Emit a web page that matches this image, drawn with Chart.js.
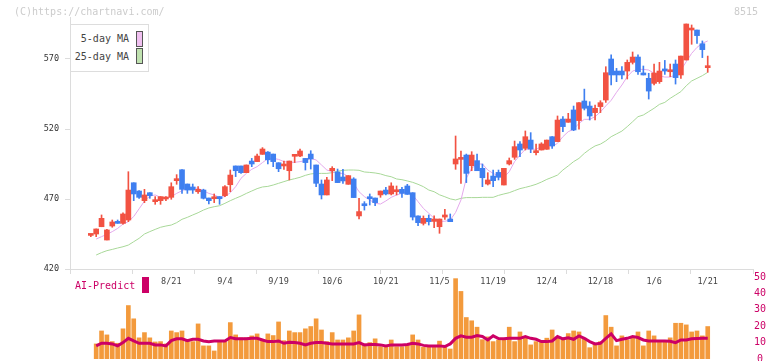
<!DOCTYPE html>
<html>
<head>
<meta charset="utf-8">
<script src="https://cdn.jsdelivr.net/npm/chart.js@4.4.1/dist/chart.umd.min.js"></script>
<style>
    body { margin: 0; width: 772px; height: 361px; overflow: hidden; background: #fff;
           font-family: "DejaVu Sans Mono", monospace; }
    canvas { position: absolute; left: 0; }
    #main_canvas { top: 0; }
    #vol_canvas { top: 270px; }
    .txt { position: absolute; font-size: 10px; line-height: 12px; white-space: nowrap; }
    .swatch { position: absolute; width: 5px; height: 14px; border: 1px solid #555; }
</style>
</head>
<body>
<canvas id="main_canvas" width="772" height="300"></canvas>
<canvas id="vol_canvas" width="772" height="100"></canvas>

<div class="txt" style="left:14px; top:6px; color:#ccc;">(C)https://chartnavi.com/</div>
<div class="txt" style="left:734px; top:6px; color:#ccc;">8515</div>

<!-- moving average legend -->
<div style="position:absolute; left:70px; top:24px; width:77px; height:46px; border:1px solid #ddd; background:#fff;"></div>
<div class="txt" style="left:70px; width:59px; top:33px; text-align:right; color:#444;">5-day MA</div>
<div class="txt" style="left:70px; width:59px; top:51px; text-align:right; color:#444;">25-day MA</div>
<div class="swatch" style="left:136px; top:31px; background:#f0c0f0;"></div>
<div class="swatch" style="left:136px; top:48px; background:#c0e2b0;"></div>

<div class="txt" style="left:75px; top:280px; color:#cc0066;">AI-Predict</div>
<div style="position:absolute; left:142px; top:277px; width:7px; height:16px; background:#cc0066;"></div>

<script>
/* trading days shown */
const dates = [
    '7/30','7/31','8/1','8/4','8/5','8/6','8/7','8/8','8/12','8/13','8/14','8/15','8/18','8/19','8/20','8/21','8/22','8/25','8/26','8/27','8/28','8/29',
    '9/1','9/2','9/3','9/4','9/5','9/8','9/9','9/10','9/11','9/12','9/16','9/17','9/18','9/19','9/22','9/24','9/25','9/26','9/29','9/30',
    '10/1','10/2','10/3','10/6','10/7','10/8','10/9','10/10','10/14','10/15','10/16','10/17','10/20','10/21','10/22','10/23','10/24','10/27','10/28','10/29','10/30','10/31',
    '11/4','11/5','11/6','11/7','11/10','11/11','11/12','11/13','11/14','11/17','11/18','11/19','11/20','11/21','11/25','11/26','11/27','11/28',
    '12/1','12/2','12/3','12/4','12/5','12/8','12/9','12/10','12/11','12/12','12/15','12/16','12/17','12/18','12/19','12/22','12/23','12/24','12/25','12/26','12/29','12/30',
    '1/5','1/6','1/7','1/8','1/9','1/13','1/14','1/15','1/16','1/19','1/20','1/21'
];

const tickDates = ['8/21','9/4','9/19','10/6','10/21','11/5','11/19','12/4','12/18','1/6','1/21'];
const priceTicks = [420, 470, 520, 570];

const open = [
    444.0,445.0,450.2,440.7,450.7,453.6,452.6,455.0,481.6,475.7,468.8,474.5,468.1,468.8,470.0,471.2,483.1,490.9,480.7,478.6,
    475.2,476.4,470.7,470.2,471.7,472.4,480.2,493.6,493.6,488.8,497.1,496.7,501.9,503.5,502.1,495.9,493.6,490.2,500.5,500.7,
    499.0,502.1,494.3,480.7,472.9,490.2,489.3,485.7,480.5,484.3,457.9,466.4,471.2,470.7,472.9,476.4,473.6,475.2,476.9,479.3,
    474.5,457.9,452.6,456.2,454.0,450.2,457.1,455.7,495.0,498.3,501.4,493.8,497.4,491.9,480.7,486.4,489.0,480.0,495.0,499.8,
    509.3,506.2,512.1,503.1,505.0,505.5,514.5,511.0,527.1,524.8,533.6,526.0,540.0,536.4,531.7,536.0,540.7,570.0,561.4,561.4,
    561.4,567.6,571.4,560.0,556.2,552.6,553.8,562.9,560.9,566.4,558.6,569.3,590.7,590.7,580.9,563.8
];
const high = [
    444.5,448.6,458.6,448.3,455.0,455.0,460.2,489.5,481.6,476.0,476.9,474.5,471.7,471.7,471.7,481.6,487.4,491.0,480.7,480.7,
    478.8,477.0,470.7,473.6,471.7,479.5,490.7,493.6,493.6,494.3,499.0,502.1,506.7,503.8,502.1,495.9,497.1,497.1,501.7,505.7,
    499.0,504.5,494.3,483.6,485.5,493.1,491.4,491.2,486.7,485.2,470.5,468.1,473.6,470.7,475.7,478.3,481.6,479.3,478.3,480.5,
    474.5,457.9,457.9,458.6,457.9,455.7,462.6,459.3,515.0,504.3,502.1,503.8,502.1,495.0,488.8,490.7,490.7,491.9,499.3,511.4,
    511.0,518.6,517.4,509.3,510.2,512.1,514.5,529.3,528.8,531.2,536.4,538.8,548.5,539.5,537.1,540.2,564.5,572.9,563.3,564.5,
    569.3,575.0,572.9,565.0,559.8,566.4,567.6,569.0,566.4,569.3,572.1,595.0,594.3,590.7,582.9,572.1
];
const low = [
    443.1,443.1,450.2,440.7,449.8,452.6,452.1,453.8,468.8,470.5,467.4,470.5,466.2,466.2,468.8,469.8,480.5,474.0,474.0,474.0,
    474.0,470.0,466.4,467.4,466.2,471.7,475.2,486.0,488.3,488.8,493.1,496.7,501.9,495.0,493.1,489.5,491.2,483.6,496.0,500.2,
    490.7,491.4,478.8,470.0,472.9,483.1,481.7,481.2,480.5,471.0,455.7,462.1,465.7,465.2,471.2,472.9,472.9,472.9,471.2,473.3,
    455.0,451.0,451.4,451.4,449.5,445.5,455.5,453.8,491.2,481.2,481.7,490.2,490.2,478.8,480.0,478.8,483.6,480.0,494.3,498.3,
    500.2,505.0,503.1,501.4,505.0,505.5,506.2,511.0,518.1,524.8,518.8,519.8,533.6,526.4,526.4,531.7,539.0,551.4,553.8,555.7,
    555.7,566.4,559.0,558.6,541.4,551.4,552.6,559.0,557.4,552.1,556.2,569.3,580.5,581.2,571.0,560.5
];
const close = [
    444.2,448.6,456.2,447.9,453.6,452.6,459.3,476.4,473.6,471.2,472.9,472.4,469.3,471.7,471.0,478.8,484.3,476.9,476.4,476.4,
    476.9,470.5,468.8,471.2,470.2,478.8,487.1,490.2,488.8,494.3,495.0,500.7,505.7,498.0,496.7,491.6,494.8,497.1,501.7,504.3,
    496.0,498.6,481.2,472.9,483.6,491.9,481.7,482.9,486.7,471.0,461.0,465.2,470.2,467.4,475.7,473.6,479.3,476.4,474.0,473.3,
    457.1,453.1,456.2,453.8,455.7,455.7,458.6,453.8,498.6,499.5,488.3,501.4,490.2,485.2,483.6,483.1,485.5,491.9,497.4,507.4,
    505.0,514.5,505.7,504.5,509.3,512.1,507.9,526.4,521.7,527.1,519.3,538.8,534.8,529.3,534.8,538.8,560.2,558.6,558.6,558.6,
    567.6,571.4,560.9,558.6,547.1,560.0,561.4,561.4,562.1,556.7,572.1,595.0,591.2,586.7,576.7,565.0
];

const ma5 = [
    null,441.4,443.1,444.8,446.7,449.0,452.1,453.8,457.5,463.0,468.5,472.1,472.9,471.2,470.5,471.7,474.0,475.9,477.6,478.1,
    477.6,475.9,474.0,472.9,471.2,471.7,474.5,478.8,484.8,488.3,491.2,493.1,496.0,498.8,499.0,498.3,496.7,496.2,496.2,496.7,
    497.4,499.0,497.9,494.3,490.7,489.5,488.3,488.3,486.0,481.2,475.2,471.7,469.3,466.9,466.4,468.6,471.2,472.9,474.0,475.2,
    472.9,468.1,463.3,459.8,456.2,454.0,454.1,455.0,460.4,469.3,484.8,491.9,495.0,495.0,490.7,488.3,486.4,485.5,489.5,496.7,
    501.4,505.5,505.5,505.5,507.4,509.3,507.4,509.8,514.5,518.1,519.8,524.0,526.9,526.9,528.8,532.2,536.5,540.5,546.2,551.4,
    557.4,561.4,562.6,562.6,562.1,559.8,557.9,557.1,557.1,558.6,562.1,568.1,574.0,578.3,581.2,582.9
];
const ma25 = [
    null,430.0,431.7,433.1,434.0,435.0,435.9,437.1,439.5,441.9,445.0,446.7,448.3,449.8,450.7,451.4,453.1,455.5,456.9,458.6,
    460.2,462.1,463.6,464.5,465.2,466.9,468.8,470.5,472.1,474.0,475.7,477.4,478.6,479.0,480.0,481.2,482.4,483.6,484.5,485.5,
    486.9,487.9,488.3,488.3,488.3,488.8,489.8,490.5,490.7,490.7,490.5,489.3,489.0,488.6,487.9,486.7,485.9,484.3,483.8,482.9,
    481.9,480.5,478.8,476.4,475.2,473.0,471.6,470.1,469.3,470.5,471.0,471.0,471.0,471.2,471.2,471.2,472.6,473.6,474.5,476.0,
    477.4,478.3,479.3,480.5,482.1,484.0,485.5,487.1,490.7,493.6,496.7,499.0,502.6,505.5,507.9,509.2,511.5,514.5,516.5,518.5,
    521.7,525.2,528.8,530.0,532.4,534.8,537.6,539.0,541.9,544.3,546.7,550.9,554.3,556.2,558.1,560.5
];

const volume = [
    null,9.2,17.1,14.7,10.6,9.6,18.4,32.6,24.5,12.9,16.1,12.9,10.4,10.6,9.2,17.1,16.1,17.1,11.2,10.6,
    21.4,8.0,8.0,4.9,10.6,10.6,22.2,14.7,12.9,12.9,14.1,15.3,11.2,15.3,14.3,22.6,11.2,17.1,16.1,16.1,
    18.4,19.8,24.5,17.7,10.6,16.1,11.6,11.6,12.9,17.1,26.9,9.2,10.0,12.3,7.5,7.1,11.6,7.5,7.5,8.9,
    14.7,11.6,7.1,8.0,7.5,10.9,7.5,6.1,49.0,41.2,25.3,23.3,19.4,11.8,13.5,10.6,11.6,11.6,19.4,10.6,
    16.5,13.5,8.6,10.6,11.2,12.7,17.7,12.9,11.8,15.5,17.1,16.5,12.7,6.9,9.6,10.6,26.5,19.4,8.0,14.1,
    11.6,12.9,16.5,8.0,17.1,14.1,10.6,10.6,12.9,21.8,21.8,20.8,16.5,17.1,14.1,19.8
];
const volumeAvg = [
    null,8.0,9.6,9.6,9.2,8.0,10.0,12.6,11.0,9.6,9.6,9.6,8.6,8.6,8.0,11.2,12.3,12.3,11.2,12.0,
    12.0,11.0,10.6,11.0,11.0,11.0,13.1,12.3,12.3,12.3,12.6,12.6,11.6,10.6,10.6,11.0,9.6,10.2,10.0,9.6,
    8.6,9.6,10.0,10.0,9.6,9.2,9.2,9.2,9.2,9.2,10.0,8.6,8.9,8.9,8.6,8.0,8.6,8.6,8.6,8.9,
    9.6,9.2,8.3,7.9,7.9,8.0,7.6,9.2,12.6,14.1,13.3,13.3,14.3,13.7,11.6,14.1,12.5,12.3,12.6,12.6,
    12.6,13.7,12.6,12.0,10.6,10.6,11.0,13.7,12.3,12.9,12.0,14.1,12.6,10.6,9.2,9.6,12.6,15.3,11.2,12.0,
    12.6,13.7,13.1,11.6,11.0,11.0,11.0,11.0,10.8,10.0,11.6,11.6,12.3,12.5,12.6,12.6
];

const UP = '#f25242';
const DOWN = '#3f7ff0';
const FONT = 'DejaVu Sans Mono';

// x range of the plot in candle units, ticks every 1/11 of the width
const X_MIN = -3.88, X_MAX = 123.44;

function points ( arr )
{
    return arr.map((v, i) => ({ x: i, y: v }));
}

function price_chart ()
{
    const labelIdx = tickDates.map(d => dates.indexOf(d));
    const gridIdx = [];
    for ( let k = 0; k <= 11; ++k )
        gridIdx.push(X_MIN + k * (X_MAX - X_MIN) / 11);
    const allTicks = gridIdx.concat(labelIdx).sort((a, b) => a - b);

    const colours = close.map((c, i) => c >= open[i] ? UP : DOWN);

    const data =
    {
        datasets: [
            {
                type: 'line', label: '25-day MA', data: points(ma25), order: 4,
                borderColor: '#a8d898', borderWidth: 1, pointRadius: 0, tension: 0
            },
            {
                type: 'line', label: '5-day MA', data: points(ma5), order: 3,
                borderColor: '#e4a8ec', borderWidth: 1, pointRadius: 0, tension: 0
            },
            {
                type: 'bar', label: 'wick', order: 2, grouped: false,
                data: low.map((l, i) => ({ x: i, y: [l, high[i]] })),
                backgroundColor: colours, barThickness: 1, minBarLength: 1
            },
            {
                type: 'bar', label: 'body', order: 1, grouped: false,
                data: open.map((o, i) => ({ x: i, y: [o, close[i]] })),
                backgroundColor: colours, barThickness: 5, minBarLength: 2
            }
        ]
    };

    const options =
    {
        responsive: false,
        animation: false,
        devicePixelRatio: 1,
        layout: { padding: { top: 17, right: 19, left: 0, bottom: 0 } },
        plugins: { legend: { display: false }, tooltip: { enabled: false } },
        scales:
        {
            x: {
                type: 'linear', min: X_MIN, max: X_MAX, offset: false,
                afterBuildTicks: s => { s.ticks = allTicks.map(v => ({ value: v })); },
                afterFit: s => { s.height = 31; },
                ticks: {
                    autoSkip: false, maxRotation: 0, padding: 3,
                    color: '#444', font: { family: FONT, size: 8.5 },
                    callback: v => labelIdx.includes(v) ? dates[v] : ''
                },
                grid: {
                    offset: false, drawOnChartArea: false, tickLength: 5,
                    tickColor: ctx => (ctx.tick && labelIdx.includes(ctx.tick.value)) ? 'rgba(0,0,0,0)' : '#dcdcdc'
                },
                border: { color: '#dcdcdc' }
            },
            y: {
                min: 420, max: 600,
                afterBuildTicks: s => { s.ticks = priceTicks.map(v => ({ value: v })); },
                afterFit: s => { s.width = 70; },
                ticks: { padding: 6, color: '#333', font: { family: FONT, size: 8.5 } },
                grid: { drawOnChartArea: false, tickLength: 5, tickColor: '#dcdcdc' },
                border: { color: '#dcdcdc' }
            }
        }
    };

    return new Chart(document.getElementById('main_canvas'), { data: data, options: options });
}

function volume_chart ()
{
    const data =
    {
        datasets: [
            {
                type: 'line', label: 'AI-Predict', data: points(volumeAvg), order: 1,
                borderColor: '#cc0066', borderWidth: 3, pointRadius: 0, tension: 0
            },
            {
                type: 'bar', label: 'volume', data: points(volume), order: 2,
                backgroundColor: '#f39a3c', barThickness: 4, grouped: false
            }
        ]
    };

    const options =
    {
        responsive: false,
        animation: false,
        devicePixelRatio: 1,
        layout: { padding: { top: 7, right: 0, left: 70, bottom: 11 } },
        plugins: { legend: { display: false }, tooltip: { enabled: false } },
        scales:
        {
            x: { type: 'linear', min: X_MIN, max: X_MAX, offset: false, display: false,
                 afterFit: s => { s.height = 0; } },
            y: {
                position: 'right', min: 0, max: 50,
                afterFit: s => { s.width = 19; },
                ticks: {
                    stepSize: 10, padding: 1, crossAlign: 'center',
                    color: '#cc0066', font: { family: FONT, size: 10 }
                },
                grid: { display: false, drawTicks: false },
                border: { display: false }
            }
        }
    };

    return new Chart(document.getElementById('vol_canvas'), { data: data, options: options });
}

price_chart();
volume_chart();
</script>
</body>
</html>
